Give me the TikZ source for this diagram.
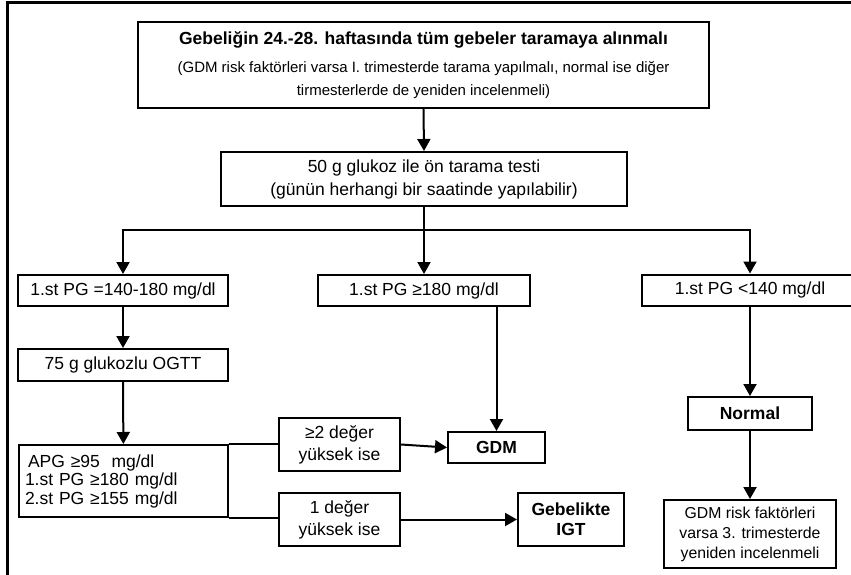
\documentclass[tikz,border=0pt]{standalone}
\usepackage{fontspec}
\setmainfont{Liberation Sans}
\usetikzlibrary{arrows.meta}

\newcommand{\mainsize}{\fontsize{17.5pt}{23pt}\selectfont}
\newcommand{\notesize}{\fontsize{15pt}{19pt}\selectfont}
\tikzset{
  box/.style={draw, line width=2pt, inner sep=0pt, align=center, font=\mainsize},
  link/.style={line width=2pt},
  arr/.style={line width=2pt, -{Triangle[width=13pt,length=12pt]}},
}

\begin{document}
\begin{tikzpicture}[x=1pt,y=1pt,yscale=-1,xscale=1]
\useasboundingbox (0,0) rectangle (851,575);

%Shape: Frame
\begin{scope}
\clip (0,0) rectangle (851,575);
\draw [line width=3pt] (7,3) rectangle (880,600);
\end{scope}

%Box: start
\node [box, minimum width=571pt, minimum height=86pt] (start) at (423.5,65) {\textbf{Gebeliğin 24.-28. haftasında tüm gebeler taramaya alınmalı}\\[5pt]\notesize (GDM risk faktörleri varsa I. trimesterde tarama yapılmalı, normal ise diğer\\\notesize tirmesterlerde de yeniden incelenmeli)};
%Box: screen
\node [box, minimum width=406pt, minimum height=54pt] (screen) at (424,179) {50 g glukoz ile ön tarama testi\\(günün herhangi bir saatinde yapılabilir)};

%Box: first level results
\node [box, minimum width=210pt, minimum height=31pt] (pgmid) at (123,290.5) {1.st PG =140-180 mg/dl};
\node [box, minimum width=212pt, minimum height=31pt] (pghigh) at (424,290.5) {1.st PG ≥180 mg/dl};
\node [box, minimum width=216pt, minimum height=31pt] (pglow) at (750,290) {1.st PG <140 mg/dl};

%Box: OGTT branch
\node [box, minimum width=210pt, minimum height=32pt] (ogtt) at (123,365) {75 g glukozlu OGTT};
\node [box, font=\fontsize{17.5pt}{18.5pt}\selectfont, align=left, text width=197pt, inner xsep=6pt, minimum height=72pt] (apg) at (123.5,481) {\hspace*{3pt}APG ≥95~~mg/dl\\1.st PG ≥180 mg/dl\\2.st PG ≥155 mg/dl};
\node [box, font=\fontsize{17.5pt}{22pt}\selectfont, minimum width=121pt, minimum height=53pt] (two) at (339.5,444.5) {≥2 değer\\yüksek ise};
\node [box, font=\fontsize{17.5pt}{22pt}\selectfont, minimum width=121pt, minimum height=53pt] (one) at (339.5,519.5) {1 değer\\yüksek ise};

%Box: outcomes
\node [box, font=\mainsize\bfseries, minimum width=97pt, minimum height=31pt] (gdm) at (496.5,447.5) {GDM};
\node [box, font=\fontsize{17.5pt}{20pt}\selectfont\bfseries, minimum width=106pt, minimum height=53pt] (igt) at (571,519.5) {Gebelikte\\IGT};
\node [box, font=\mainsize\bfseries, minimum width=124pt, minimum height=33pt] (normal) at (750,413.5) {Normal};
\node [box, font=\fontsize{15.8pt}{20pt}\selectfont, minimum width=172pt, minimum height=68pt] (recheck) at (750,534) {GDM risk faktörleri\\varsa 3. trimesterde\\yeniden incelenmeli};

%Connectors
\coordinate (fork) at (424,230);
\draw [arr] (start.south) -- (screen.north);
\draw [link] (screen.south) -- (fork);
\draw [arr] (fork) -| (pgmid.north);
\draw [arr] (fork) -- (pghigh.north);
\draw [arr] (fork) -| (pglow.north);
\draw [arr] (pgmid) -- (ogtt);
\draw [arr] (ogtt) -- (apg);
\draw [arr] (pghigh.south -| gdm.north) -- (gdm.north);
\draw [arr] (pglow) -- (normal);
\draw [arr] (normal) -- (recheck);
\draw [link] (apg.north east) -- (apg.north east -| two.west);
\draw [link] (apg.south east) -- (apg.south east -| one.west);
\draw [arr] (two.east) -- (gdm.west);
\draw [arr] (one.east) -- (igt.west);

\end{tikzpicture}
\end{document}
